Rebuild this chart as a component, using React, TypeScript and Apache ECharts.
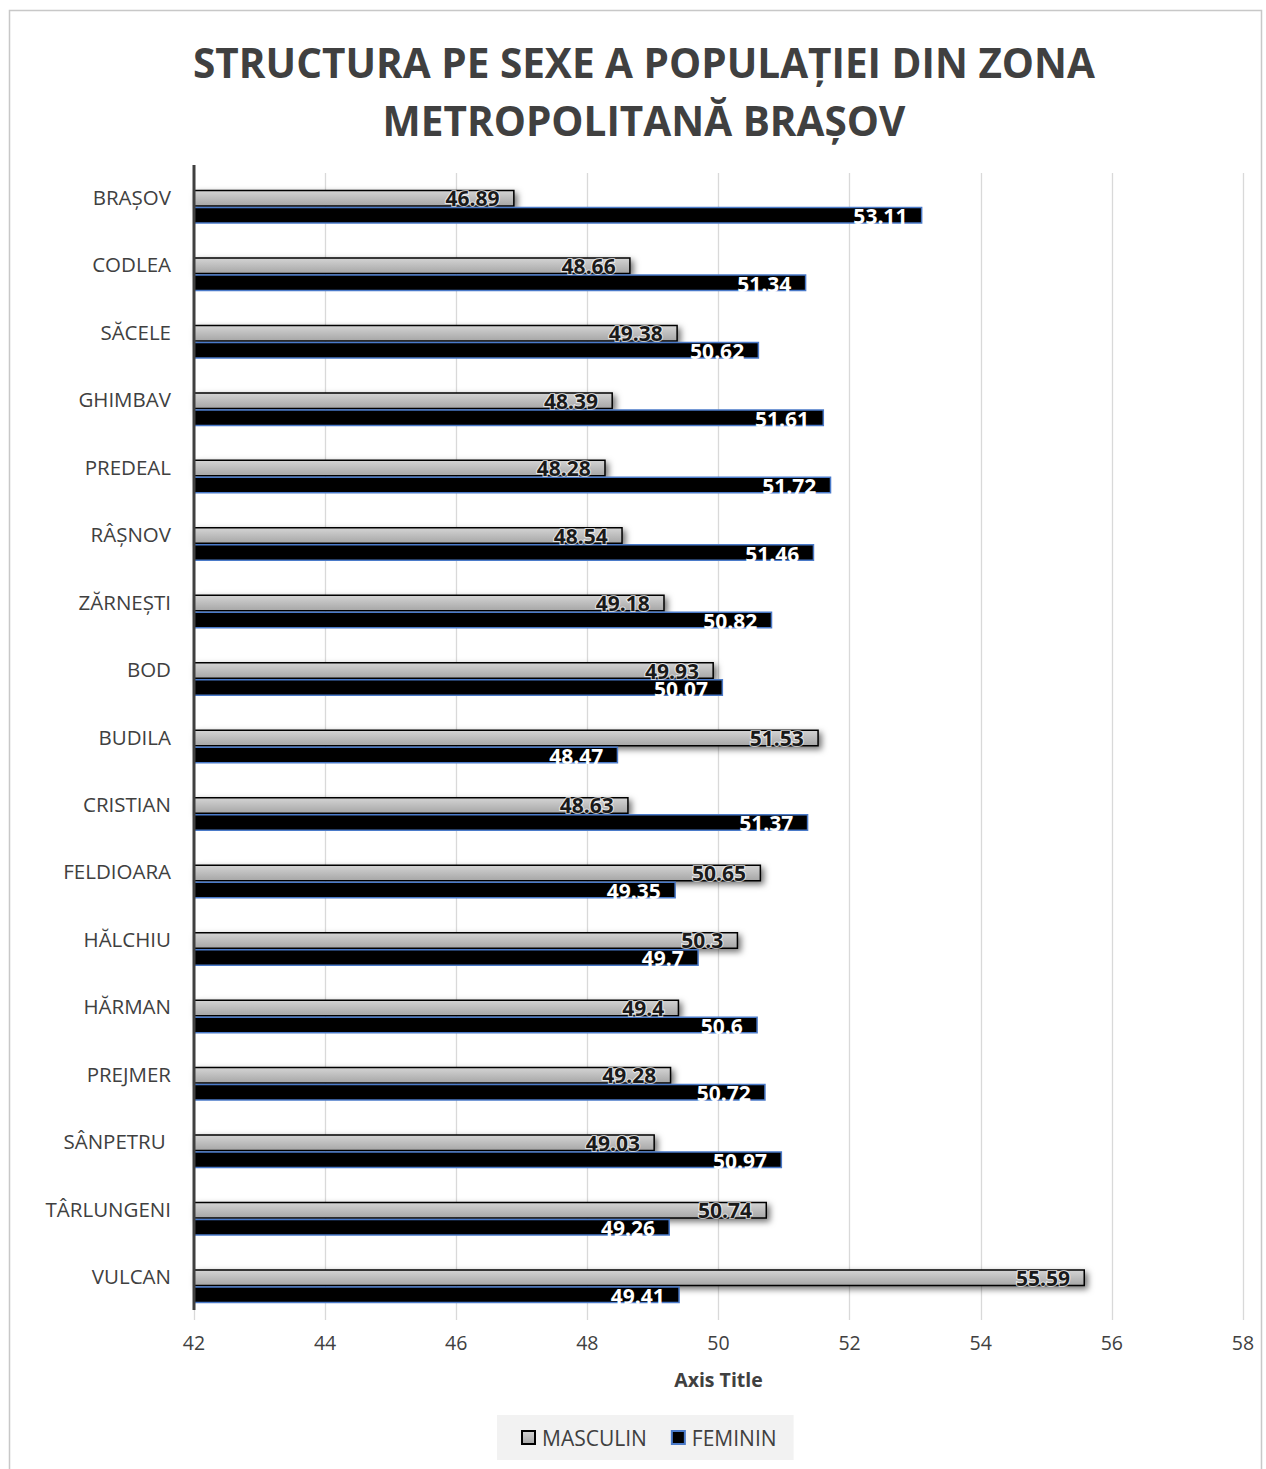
import React, { useEffect, useRef } from "react";
import * as echarts from "echarts";

const categories = ["BRAȘOV", "CODLEA", "SĂCELE", "GHIMBAV", "PREDEAL", "RÂȘNOV", "ZĂRNEȘTI", "BOD", "BUDILA", "CRISTIAN", "FELDIOARA", "HĂLCHIU", "HĂRMAN", "PREJMER", "SÂNPETRU ", "TÂRLUNGENI", "VULCAN"];
const masculin = [46.89, 48.66, 49.38, 48.39, 48.28, 48.54, 49.18, 49.93, 51.53, 48.63, 50.65, 50.3, 49.4, 49.28, 49.03, 50.74, 55.59];
const feminin = [53.11, 51.34, 50.62, 51.61, 51.72, 51.46, 50.82, 50.07, 48.47, 51.37, 49.35, 49.7, 50.6, 50.72, 50.97, 49.26, 49.41];
const xMin = 42;
const xMax = 58;
const xStep = 2;

const FONT = "Open Sans";

export default function App() {
  const ref = useRef<HTMLDivElement>(null);
  useEffect(() => {
    const chart = echarts.init(ref.current!, null, { renderer: "svg" });
    chart.setOption({
      animation: false,
      backgroundColor: "#ffffff",
      title: {
        text: "STRUCTURA PE SEXE A POPULAȚIEI DIN ZONA\nMETROPOLITANĂ BRAȘOV",
        left: 639,
        textAlign: "center",
        top: 28,
        textStyle: { fontFamily: FONT, fontSize: 40.5, fontWeight: "bold", color: "#404040", lineHeight: 58 },
      },
      graphic: [
        { type: "rect", shape: { x: 9.5, y: 10.5, width: 1252, height: 1470 }, style: { fill: "none", stroke: "#c8c8c8", lineWidth: 1.5 }, z: -1 },
        { type: "line", shape: { x1: 194, y1: 165, x2: 194, y2: 1310 }, style: { stroke: "#404040", lineWidth: 3 }, z: 10 },
      ],
      legend: {
        data: ["MASCULIN", "FEMININ"],
        bottom: 9,
        left: 497,
        itemWidth: 13,
        itemHeight: 13,
        itemGap: 24,
        padding: [12, 17, 12, 24],
        backgroundColor: "#f2f2f2",
        textStyle: { fontFamily: FONT, fontSize: 21, color: "#404040", padding: [0, 0, 0, 2] },
        icon: "rect",
      },
      grid: { left: 194, right: 1266 - 1243, top: 173, height: 1147, containLabel: false },
      xAxis: {
        type: "value",
        min: xMin,
        max: xMax,
        interval: xStep,
        name: "Axis Title",
        nameLocation: "middle",
        nameGap: 49,
        nameTextStyle: { fontFamily: FONT, fontSize: 19.5, fontWeight: "bold", color: "#404040" },
        axisLine: { show: false },
        axisTick: { show: false },
        axisLabel: { fontFamily: FONT, fontSize: 19.5, color: "#404040", margin: 12 },
        splitLine: { show: true, lineStyle: { color: "#d9d9d9", width: 1.3 } },
      },
      yAxis: {
        type: "category",
        data: categories,
        inverse: true,
        axisLine: { show: false },
        axisTick: { show: false },
        axisLabel: { fontFamily: FONT, fontSize: 20.5, color: "#404040", margin: 23, verticalAlign: "bottom", lineHeight: 20 },
      },
      series: [
        {
          name: "MASCULIN",
          type: "bar",
          data: masculin,
          barWidth: 17,
          barGap: "0%",
          itemStyle: {
            color: new echarts.graphic.LinearGradient(0, 0, 0, 1, [
              { offset: 0, color: "#d4d4d4" },
              { offset: 1, color: "#a6a6a6" },
            ]),
            borderColor: "#000000",
            borderWidth: 1.5,
            shadowColor: "rgba(0,0,0,0.55)",
            shadowBlur: 6,
            shadowOffsetX: 3,
            shadowOffsetY: 3,
          },
          label: {
            show: true,
            position: "insideRight",
            distance: 15,
            offset: [0, 0],
            fontFamily: FONT,
            fontSize: 21,
            fontWeight: "bold",
            color: "#1a1a1a",
            textBorderColor: "rgba(255,255,255,0.7)",
            textBorderWidth: 2,
          },
        },
        {
          name: "FEMININ",
          type: "bar",
          data: feminin,
          barWidth: 17,
          barGap: "0%",
          itemStyle: {
            color: "#000000",
            borderColor: "#4a7ac9",
            borderWidth: 1.5,
          },
          label: {
            show: true,
            position: "insideRight",
            distance: 15,
            offset: [0, 1],
            fontFamily: FONT,
            fontSize: 21,
            fontWeight: "bold",
            color: "#ffffff",
          },
        },
      ],
    });
    return () => chart.dispose();
  }, []);
  return <div ref={ref} style={{ position: "absolute", left: 0, top: 0, width: 1266, height: 1469 }} />;
}
